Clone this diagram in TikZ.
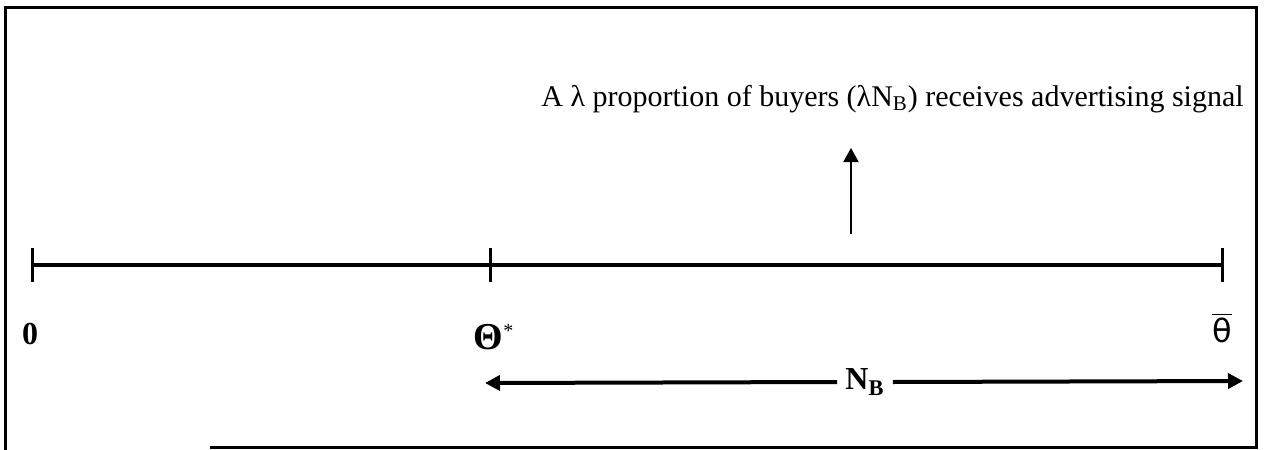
\documentclass[tikz,border=0pt]{standalone}
\usepackage{fontspec}
\setmainfont{Liberation Serif}
\newfontfamily\sansgreek{DejaVu Sans}
\usetikzlibrary{arrows.meta, positioning}
\tikzset{
  frame/.style  ={line width=1.5pt},
  axis/.style   ={line width=1.8pt},
  tick/.style   ={line width=1.5pt},
  ptlab/.style  ={font=\fontsize{16}{18}\selectfont\bfseries, inner sep=0pt},
  barlab/.style ={font=\fontsize{16}{18}\sansgreek, inner sep=0pt},
  sig/.style    ={font=\fontsize{15}{17}\selectfont, inner sep=0pt, anchor=base west},
  up/.style     ={-{Triangle[length=7pt, width=7.5pt]}, line width=1pt},
  span/.style   ={-{Triangle[length=7.5pt, width=7.5pt]}, line width=2pt},
}
\begin{document}
\begin{tikzpicture}[x=0.5pt, y=-0.5pt]
  \useasboundingbox (0,0) rectangle (1265,450);
  % outer frame (bottom edge cut at the left)
  \draw[frame] (210,447.5) -- (1256,447.5) -- (1256,7.5) -- (5.5,7.5) -- (5.5,452);
  % ticks on the buyer line
  \coordinate (zero)      at (32,265);
  \coordinate (thetastar) at (490,265);
  \coordinate (thetabar)  at (1222,265);
  \draw[axis] (zero) -- (thetabar);
  \foreach \p in {zero, thetastar, thetabar}
    \draw[tick] ([yshift=8.5pt]\p) -- ([yshift=-8.5pt]\p);
  % point labels
  \node[ptlab] (lzero) at (30,334) {0};
  \node[ptlab, font=\fontsize{19}{21}\selectfont\bfseries] (lstar) at (494,337)
    {Θ\textsuperscript{\mdseries\fontsize{10}{12}\selectfont *}};
  \node[barlab] (lbar) at (1222,328) {$\overline{\hbox{\sansgreek θ}}$};
  % advertising signal
  \node[sig] (signal) at (541,106)
    {A λ proportion of buyers (λN\textsubscript{B}) receives advertising signal};
  \coordinate (upfoot) at (851,234);
  \coordinate (uptip)  at (851,148);
  \draw[up] (upfoot) -- (uptip);
  % mass of buyers above theta*
  \node[font=\fontsize{16}{18}\selectfont\bfseries, inner sep=4pt] (nb) at (865,382)
    {N\textsubscript{B}};
  \coordinate (nbleft)  at (485,383);
  \coordinate (nbright) at (1243,381);
  \draw[span] (nb.west) -- (nbleft);
  \draw[span] (nb.east) -- (nbright);
\end{tikzpicture}
\end{document}
